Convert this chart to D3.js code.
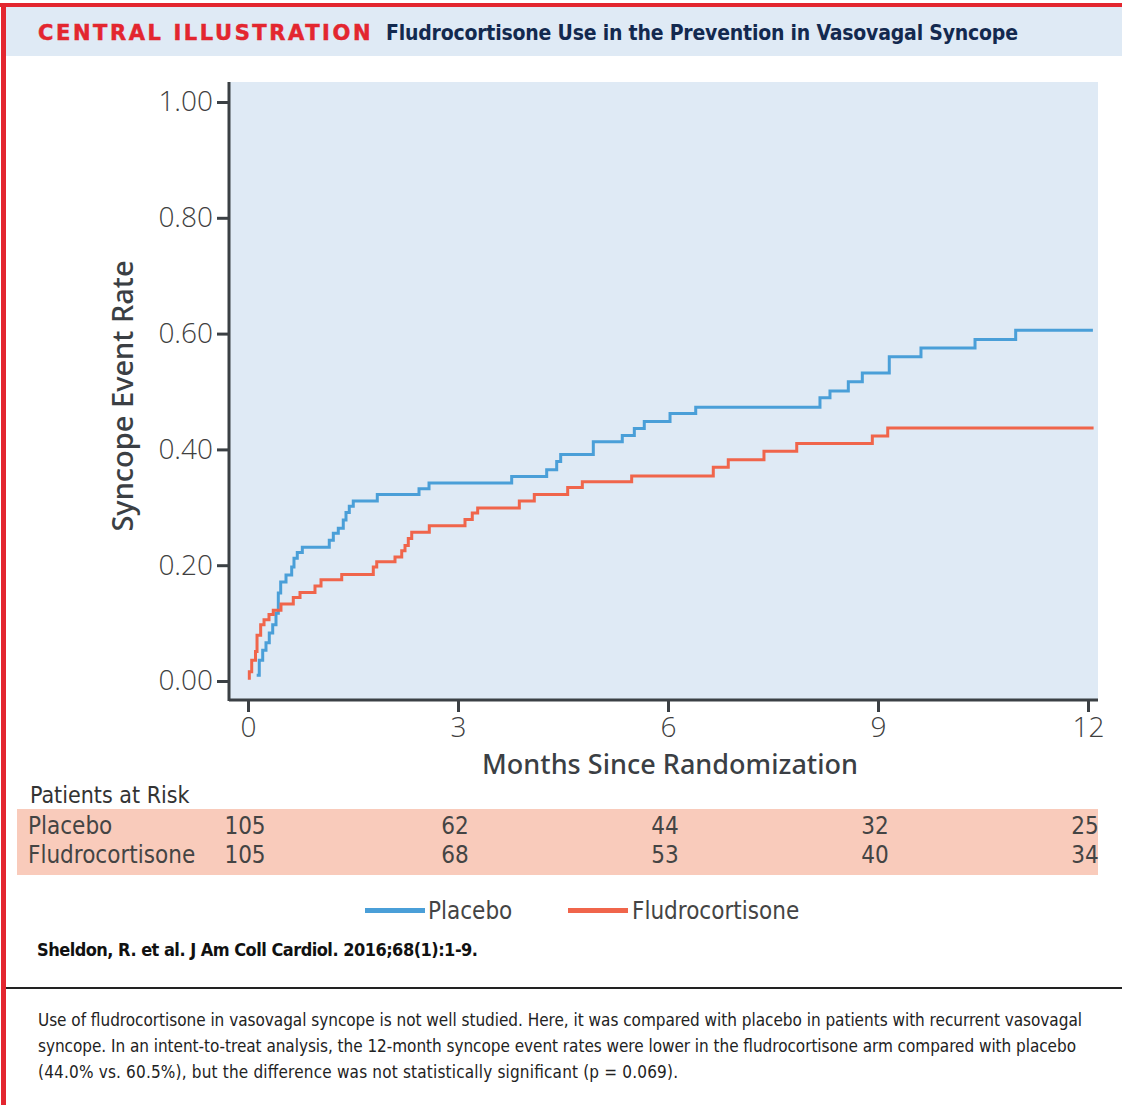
<!DOCTYPE html>
<html><head><meta charset="utf-8">
<script src="https://cdn.jsdelivr.net/npm/d3@7"></script>
<style>body{margin:0;background:#fff}svg{display:block}</style>
</head><body>
<svg id="c" width="1122" height="1105"></svg>
<script>
// ---- data ----
const placeboMonths = [0.124,0.161,0.21,0.257,0.304,0.353,0.40,0.433,0.467,0.543,0.624,0.657,0.704,0.776,1.161,1.219,1.29,1.361,1.40,1.447,1.504,1.847,2.443,2.586,3.767,4.267,4.41,4.467,4.933,5.347,5.519,5.661,6.029,6.396,8.171,8.314,8.576,8.776,9.161,9.614,10.386,10.967,12.07];
const placeboRates  = [0.010,0.036,0.053,0.066,0.083,0.097,0.117,0.152,0.171,0.183,0.197,0.212,0.222,0.231,0.243,0.255,0.264,0.278,0.291,0.302,0.311,0.322,0.332,0.342,0.353,0.365,0.379,0.391,0.413,0.424,0.436,0.448,0.462,0.473,0.489,0.501,0.517,0.532,0.560,0.575,0.590,0.606,0.606];
const fludroMonths = [0.019,0.019,0.053,0.107,0.129,0.181,0.229,0.30,0.361,0.471,0.647,0.743,0.957,1.043,1.339,1.79,1.839,2.10,2.196,2.243,2.29,2.339,2.59,3.10,3.204,3.281,3.876,4.09,4.567,4.776,5.481,6.647,6.861,7.371,7.839,8.919,9.139,12.08];
const fludroRates  = [0.002,0.016,0.036,0.051,0.079,0.097,0.106,0.115,0.122,0.133,0.144,0.153,0.164,0.175,0.184,0.197,0.206,0.214,0.225,0.234,0.246,0.257,0.268,0.279,0.290,0.299,0.311,0.322,0.334,0.344,0.354,0.369,0.382,0.397,0.410,0.423,0.437,0.437];
const xTicks = [0,3,6,9,12];
const yTicks = [0,0.2,0.4,0.6,0.8,1.0];
const seriesNames = ["Placebo","Fludrocortisone"];
const atRiskPlacebo = [105,62,44,32,25];
const atRiskFludro  = [105,68,53,40,34];
const colors = ["#4a9fd8","#f0654b"];

const svg = d3.select("#c");
const cond = "'Liberation Sans Narrow','DejaVu Sans Condensed','Open Sans',sans-serif";
const sans = "'Open Sans','Noto Sans',sans-serif";

// frame
svg.append("rect").attr("x",6).attr("y",7).attr("width",1116).attr("height",49).attr("fill","#dfeaf5");
svg.append("rect").attr("x",0).attr("y",3).attr("width",1122).attr("height",4).attr("fill","#e3262f");
svg.append("rect").attr("x",1).attr("y",3).attr("width",5).attr("height",1102).attr("fill","#e3262f");
svg.append("text").attr("x",38).attr("y",40).attr("font-family","'DejaVu Sans','Open Sans',sans-serif")
  .attr("font-weight","900").attr("font-size",21).attr("letter-spacing",1.5).attr("fill","#e3262f")
  .attr("stroke","#e3262f").attr("stroke-width",0.5)
  .attr("textLength",334).text("CENTRAL ILLUSTRATION");
svg.append("text").attr("x",386).attr("y",40).attr("font-family","'DejaVu Sans Condensed','DejaVu Sans',sans-serif")
  .attr("font-weight","bold").attr("font-size",21).attr("fill","#13294f")
  .attr("textLength",632).text("Fludrocortisone Use in the Prevention in Vasovagal Syncope");

// plot
const x = d3.scaleLinear().domain([0,12]).range([248,1088]);
const y = d3.scaleLinear().domain([0,1]).range([681,102]);
svg.append("rect").attr("x",229).attr("y",82).attr("width",869).attr("height",618).attr("fill","#dfeaf5");

const line = d3.line().x(d=>x(d[0])).y(d=>y(d[1])).curve(d3.curveStepAfter);
const series = [d3.zip(placeboMonths,placeboRates), d3.zip(fludroMonths,fludroRates)];
series.forEach((s,i)=>{
  svg.append("path").datum(s).attr("d",line).attr("fill","none")
    .attr("stroke",colors[i]).attr("stroke-width",3);
});

const axisColor = "#3b4044";
const gx = svg.append("g").attr("transform","translate(0,700)")
  .call(d3.axisBottom(x).tickValues(xTicks).tickSize(12).tickPadding(5).tickFormat(d3.format("d")));
gx.select(".domain").attr("d","M229,0H1098").attr("stroke",axisColor).attr("stroke-width",3);
gx.selectAll(".tick line").attr("stroke",axisColor).attr("stroke-width",3);
gx.selectAll(".tick text").attr("font-family",sans).attr("font-weight",300).attr("font-size",28).attr("fill","#3f3f3f");

const gy = svg.append("g").attr("transform","translate(229,0)")
  .call(d3.axisLeft(y).tickValues(yTicks).tickSize(12).tickPadding(4).tickFormat(d3.format(".2f")));
gy.select(".domain").attr("d","M0,82V701").attr("stroke",axisColor).attr("stroke-width",3);
gy.selectAll(".tick line").attr("stroke",axisColor).attr("stroke-width",3);
gy.selectAll(".tick text").attr("font-family",sans).attr("font-weight",300).attr("font-size",28).attr("fill","#3f3f3f");

svg.append("text").attr("transform","translate(133,396) rotate(-90)").attr("text-anchor","middle")
  .attr("font-family","'Noto Sans','Open Sans',sans-serif").attr("font-weight",500).attr("font-size",29).attr("fill","#3b3f44")
  .text("Syncope Event Rate");
svg.append("text").attr("x",670).attr("y",774).attr("text-anchor","middle")
  .attr("font-family","'Noto Sans','Open Sans',sans-serif").attr("font-weight",500).attr("font-size",27).attr("fill","#3b3f44")
  .attr("textLength",376).text("Months Since Randomization");

// at risk table
svg.append("text").attr("x",30).attr("y",803).attr("font-family",cond).attr("font-size",23).attr("fill","#333").text("Patients at Risk");
svg.append("rect").attr("x",17).attr("y",809).attr("width",1081).attr("height",66).attr("fill","#f9cbbb");
[[seriesNames[0],atRiskPlacebo,834],[seriesNames[1],atRiskFludro,863]].forEach(([nm,vals,yy])=>{
  svg.append("text").attr("x",28).attr("y",yy).attr("font-family",cond).attr("font-size",24).attr("fill","#444").text(nm);
  vals.forEach((v,i)=>{
    svg.append("text").attr("x",x(xTicks[i])-3).attr("y",yy).attr("text-anchor","middle")
      .attr("font-family",cond).attr("font-size",24).attr("fill","#444").text(v);
  });
});

// legend
const leg = [[365,428],[568,632]];
seriesNames.forEach((nm,i)=>{
  svg.append("rect").attr("x",leg[i][0]).attr("y",908).attr("width",60).attr("height",5).attr("fill",colors[i]);
  svg.append("text").attr("x",leg[i][1]).attr("y",919).attr("font-family",cond).attr("font-size",24).attr("fill","#444").text(nm);
});

// citation & caption
svg.append("text").attr("x",37).attr("y",956).attr("font-family",cond).attr("font-weight","bold").attr("font-size",18).attr("fill","#111")
  .attr("textLength",441).text("Sheldon, R. et al. J Am Coll Cardiol. 2016;68(1):1-9.");
svg.append("rect").attr("x",6).attr("y",987).attr("width",1116).attr("height",2).attr("fill","#222");
const cap = ["Use of fludrocortisone in vasovagal syncope is not well studied. Here, it was compared with placebo in patients with recurrent vasovagal",
 "syncope. In an intent-to-treat analysis, the 12-month syncope event rates were lower in the fludrocortisone arm compared with placebo",
 "(44.0% vs. 60.5%), but the difference was not statistically significant (p = 0.069)."];
const capLen = [1044,1038,640];
cap.forEach((t,i)=>{
  svg.append("text").attr("x",38).attr("y",1026+i*26).attr("font-family",cond).attr("font-size",17).attr("fill","#222")
    .attr("textLength",capLen[i]).text(t);
});
</script>
</body></html>
